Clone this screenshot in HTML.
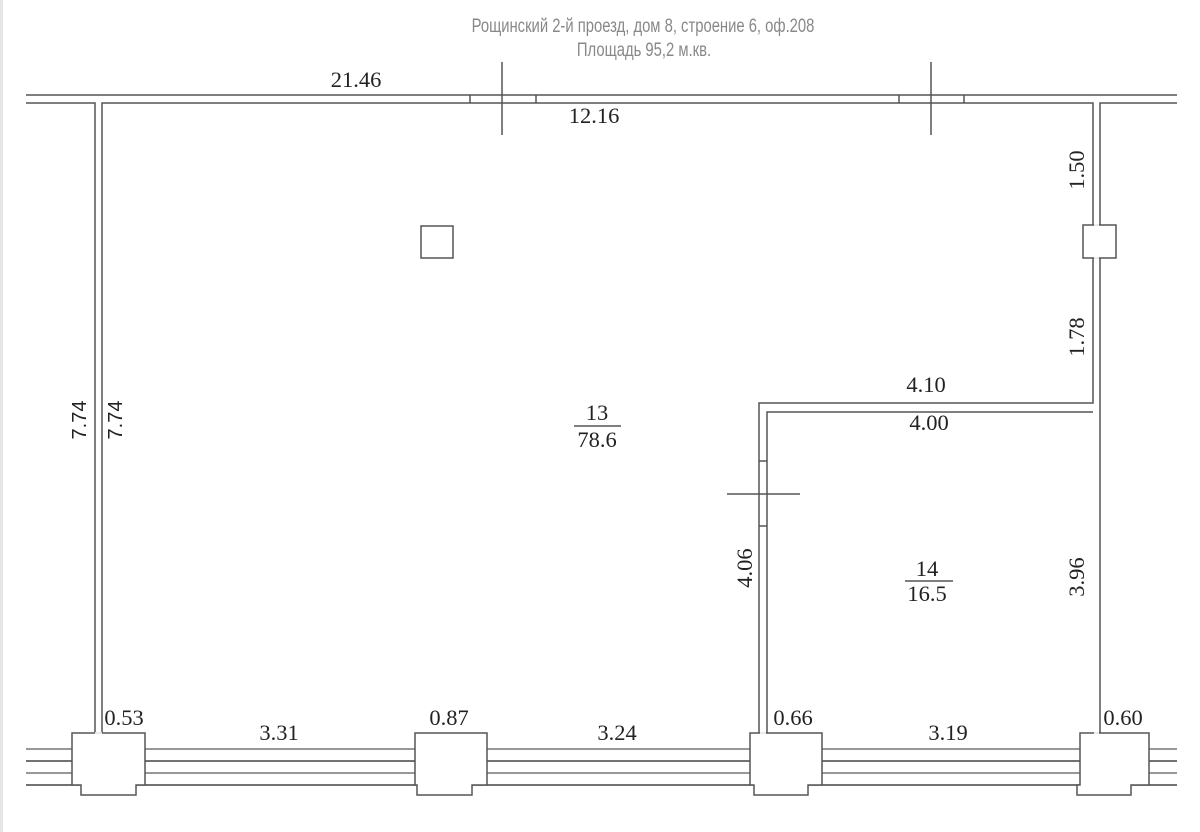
<!DOCTYPE html>
<html><head><meta charset="utf-8"><style>
html,body{margin:0;padding:0;background:#fff;}
svg{display:block;}
.d{font-family:"Liberation Serif",serif;font-size:22.5px;fill:#222;}
.s{font-family:"Liberation Sans",sans-serif;font-size:20px;fill:#222;}
.t{font-family:"Liberation Sans","DejaVu Sans",sans-serif;font-size:19px;fill:#888;}
</style></head><body>
<svg width="1200" height="832" viewBox="0 0 1200 832" xmlns="http://www.w3.org/2000/svg">
<rect x="0" y="0" width="3" height="832" fill="#e6e6e6"/>
<text class="t" x="643" y="32" text-anchor="middle" transform="translate(643 0) scale(0.78 1) translate(-643 0)">Рощинский 2-й проезд, дом 8, строение 6, оф.208</text>
<text class="t" x="644" y="56" text-anchor="middle" transform="translate(644 0) scale(0.78 1) translate(-644 0)">Площадь 95,2 м.кв.</text>
<g stroke="#555" stroke-width="1.5" fill="none">
<line x1="26" y1="95" x2="1177" y2="95"/>
<polyline points="26,103 95,103 95,733"/>
<polyline points="102,733 102,103 1093,103 1093,403 759,403 759,733"/>
<polyline points="1177,103 1100,103 1100,733"/>
<polyline points="767,733 767,412 1093,412"/>
<line x1="470" y1="95" x2="470" y2="103"/><line x1="536" y1="95" x2="536" y2="103"/>
<line x1="502" y1="62" x2="502" y2="135"/>
<line x1="899" y1="95" x2="899" y2="103"/><line x1="964" y1="95" x2="964" y2="103"/>
<line x1="931" y1="62" x2="931" y2="135"/>
<line x1="759" y1="461" x2="767" y2="461"/><line x1="759" y1="526" x2="767" y2="526"/>
<line x1="727" y1="494" x2="800" y2="494"/>
<rect x="421" y="226" width="32" height="32" fill="#fff"/>
<rect x="1083" y="225" width="33" height="33" fill="#fff"/>
<g stroke="#444">
<line x1="26" y1="749" x2="1177" y2="749" stroke="#777"/>
<line x1="26" y1="761" x2="1177" y2="761"/>
<line x1="26" y1="773" x2="1177" y2="773" stroke="#777"/>
<line x1="26" y1="785" x2="1177" y2="785"/>
</g>
<path d="M72,733 H145 V785 H136 V795 H81 V785 H72 Z" fill="#fff"/>
<path d="M415,733 H487 V785 H472 V795 H417 V785 H415 Z" fill="#fff"/>
<path d="M750,733 H822 V785 H808 V795 H754 V785 H750 Z" fill="#fff"/>
<path d="M1080,733 H1149 V785 H1131 V795 H1077 V785 H1080 Z" fill="#fff"/>
<line x1="95" y1="733" x2="102" y2="733" stroke="#fff"/>
<line x1="760" y1="733" x2="766" y2="733" stroke="#fff"/>
<line x1="1094" y1="733" x2="1099" y2="733" stroke="#fff"/>
<line x1="1094" y1="225" x2="1099" y2="225" stroke="#fff"/>
<line x1="1094" y1="258" x2="1099" y2="258" stroke="#fff"/>
</g>
<text class="d" x="356" y="87" text-anchor="middle">21.46</text>
<text class="d" x="594" y="123" text-anchor="middle">12.16</text>
<text class="d" x="926" y="392" text-anchor="middle">4.10</text>
<text class="d" x="929" y="430" text-anchor="middle">4.00</text>
<text class="d" transform="translate(1084 170) rotate(-90)" text-anchor="middle">1.50</text>
<text class="d" transform="translate(1084 337) rotate(-90)" text-anchor="middle">1.78</text>
<text class="d" transform="translate(1084 577) rotate(-90)" text-anchor="middle">3.96</text>
<text class="d" transform="translate(752 568) rotate(-90)" text-anchor="middle">4.06</text>
<text class="s" transform="translate(86 420) rotate(-90)" text-anchor="middle">7.74</text>
<text class="s" transform="translate(122 420) rotate(-90)" text-anchor="middle">7.74</text>
<text class="d" x="597" y="420" text-anchor="middle">13</text>
<line x1="574" y1="426" x2="621" y2="426" stroke="#333" stroke-width="1.2"/>
<text class="d" x="597" y="447" text-anchor="middle">78.6</text>
<text class="d" x="927" y="576" text-anchor="middle">14</text>
<line x1="905" y1="581" x2="953" y2="581" stroke="#333" stroke-width="1.2"/>
<text class="d" x="927" y="601" text-anchor="middle">16.5</text>
<text class="d" x="124" y="725" text-anchor="middle">0.53</text>
<text class="d" x="279" y="740" text-anchor="middle">3.31</text>
<text class="d" x="449" y="725" text-anchor="middle">0.87</text>
<text class="d" x="617" y="740" text-anchor="middle">3.24</text>
<text class="d" x="793" y="725" text-anchor="middle">0.66</text>
<text class="d" x="948" y="740" text-anchor="middle">3.19</text>
<text class="d" x="1123" y="725" text-anchor="middle">0.60</text>
</svg>
</body></html>
